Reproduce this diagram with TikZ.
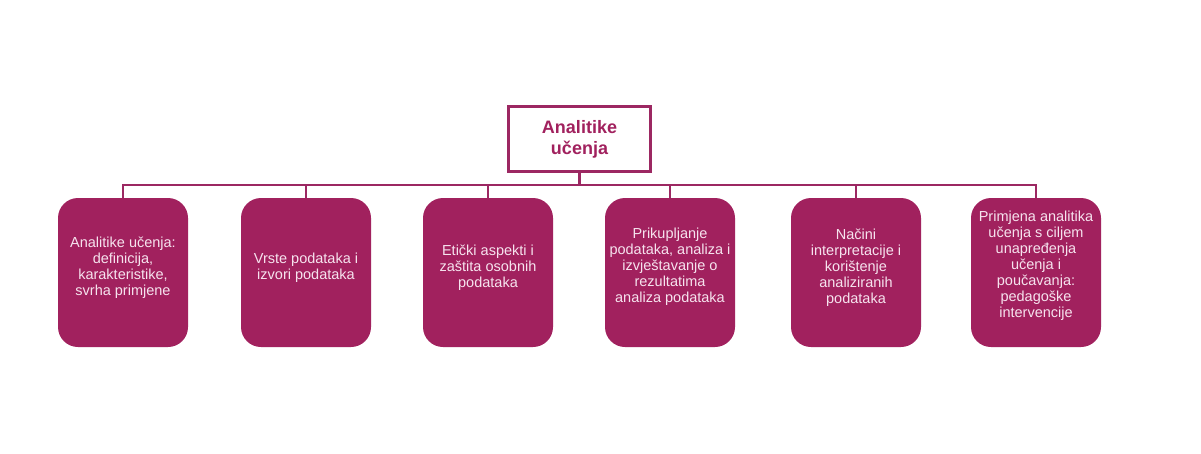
\documentclass[tikz,border=0pt]{standalone}
\usepackage{fontspec}
\setmainfont{Liberation Sans}
\usepackage{tikz}

\definecolor{plum}{HTML}{A1215E}
\definecolor{plumline}{HTML}{9C2862}
\definecolor{paletext}{HTML}{F6E3EE}

\tikzset{
    topic/.style={draw=plumline, line width=3pt, fill=white, minimum width=142pt,
        minimum height=65pt, align=center, text=plum,
        font=\fontsize{18}{21}\selectfont\bfseries},
    sub/.style={fill=plum, rounded corners=20pt, minimum width=130pt,
        minimum height=149pt},
    subtext/.style={align=center, text=paletext, inner sep=0pt,
        font=\fontsize{14.5}{16}\selectfont},
    bus/.style={draw=plumline, line width=2.5pt}
}

\begin{document}
\begin{tikzpicture}[x=1pt, y=-1pt]
        \useasboundingbox (0,0) rectangle (1201,453);

        \node[topic] (top) at (579.5,139) {Analitike\\učenja};

        \node[sub] (a1) at (123,272.5) {};
        \node[sub] (a2) at (306,272.5) {};
        \node[sub] (a3) at (488,272.5) {};
        \node[sub] (a4) at (670,272.5) {};
        \node[sub] (a5) at (856,272.5) {};
        \node[sub] (a6) at (1036,272.5) {};

        \node[subtext] (t1) at ([yshift=5pt]a1.center) {Analitike učenja:\\definicija,\\karakteristike,\\svrha primjene};
        \node[subtext] (t2) at ([yshift=5pt]a2.center) {Vrste podataka i\\izvori podataka};
        \node[subtext] (t3) at ([yshift=5pt]a3.center) {Etički aspekti i\\zaštita osobnih\\podataka};
        \node[subtext] (t4) at ([yshift=6pt]a4.center) {Prikupljanje\\podataka, analiza i\\izvještavanje o\\rezultatima\\analiza podataka};
        \node[subtext] (t5) at ([yshift=5pt]a5.center) {Načini\\interpretacije i\\korištenje\\analiziranih\\podataka};
        \node[subtext] (t6) at ([yshift=7pt]a6.center) {Primjena analitika\\učenja s ciljem\\unapređenja\\učenja i\\poučavanja:\\pedagoške\\intervencije};

        % bus from the title down to every topic
        \coordinate (fork) at (579.5,185);
        \draw[bus] (top.south) -- (fork);
        \foreach \k in {a1,a2,a3,a4,a5,a6}
            \draw[bus] (fork) -| (\k.north);
\end{tikzpicture}
\end{document}
